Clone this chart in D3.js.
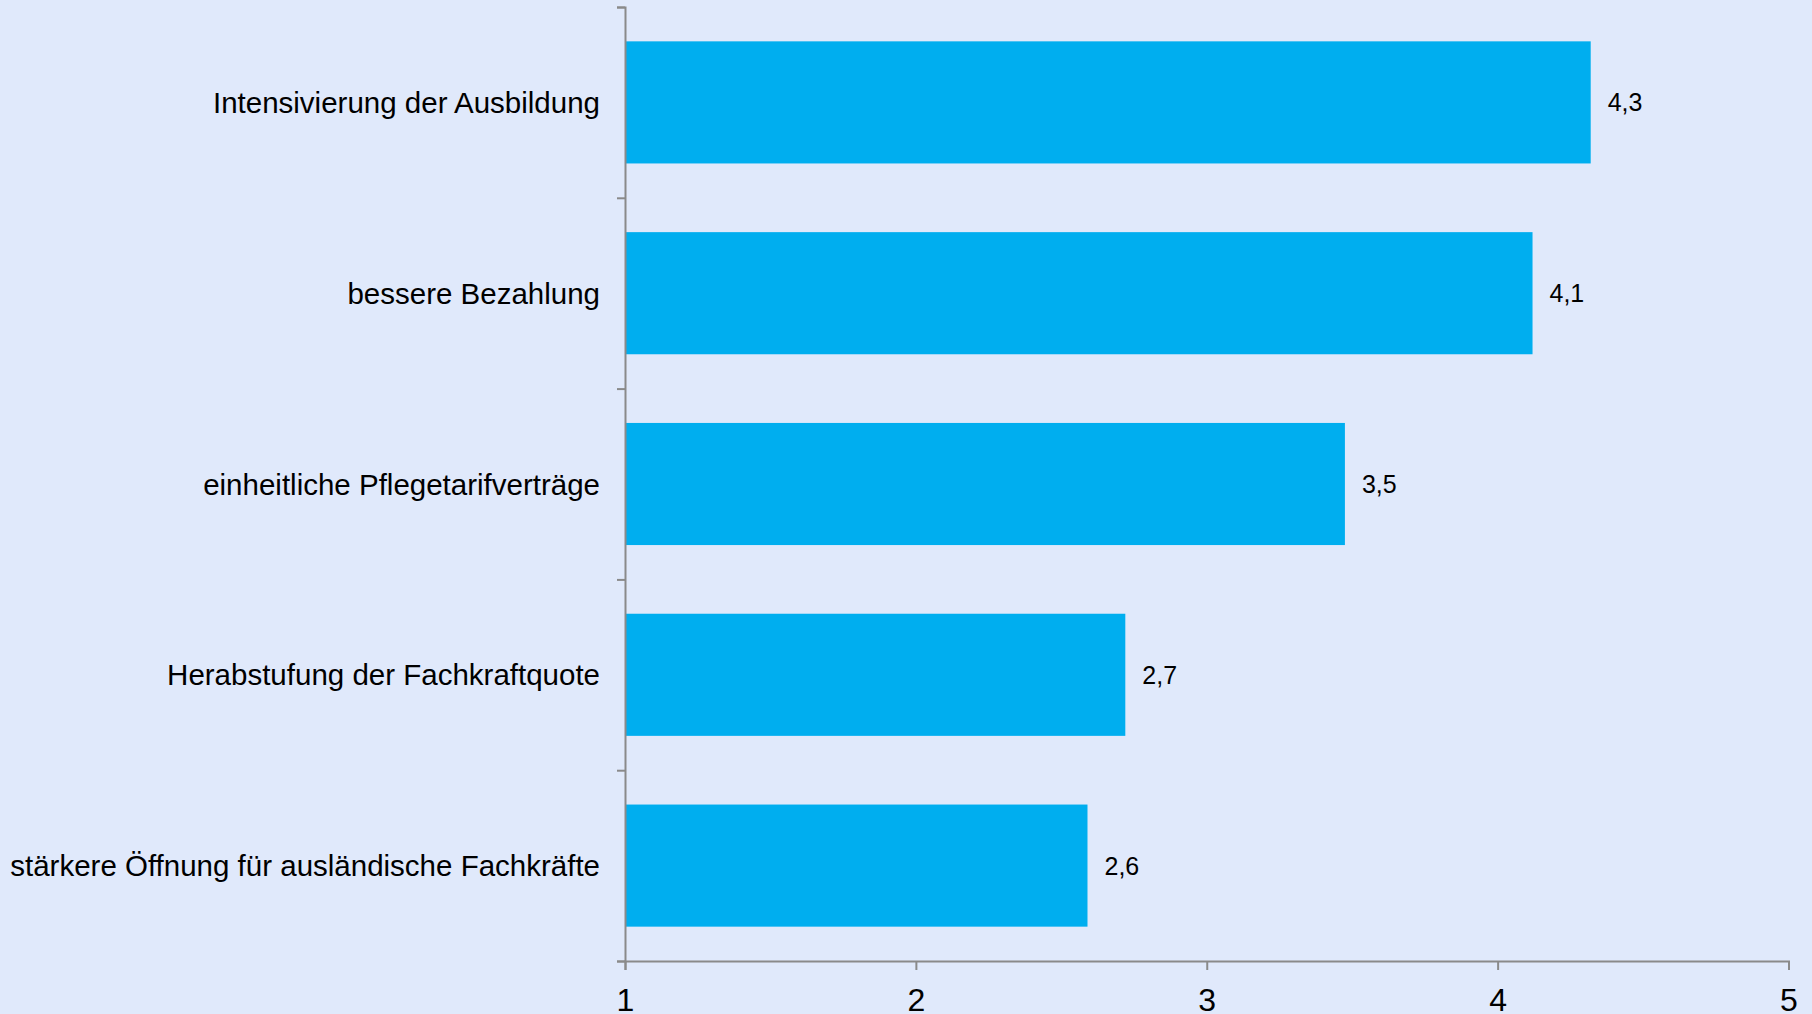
<!DOCTYPE html>
<html>
<head>
<meta charset="utf-8">
<script src="https://cdn.jsdelivr.net/npm/d3@7"></script>
<style>
  html, body { margin: 0; padding: 0; background: #e0e9fb; }
  svg { display: block; font-family: "Liberation Sans", Arial, sans-serif; }
</style>
</head>
<body>
<svg id="chart" width="1812" height="1014"></svg>
<script>
var categories = [
  'Intensivierung der Ausbildung',
  'bessere Bezahlung',
  'einheitliche Pflegetarifverträge',
  'Herabstufung der Fachkraftquote',
  'stärkere Öffnung für ausländische Fachkräfte'
];
var values = [4.32, 4.12, 3.475, 2.72, 2.59];
var xTicks = [1, 2, 3, 4, 5];

var svg = d3.select('#chart'),
  margin = { top: 7, left: 625, right: 24, bottom: 53 },
  w = svg.attr('width') - margin.left - margin.right,
  h = svg.attr('height') - margin.top - margin.bottom;

svg.append('rect')
  .attr('width', svg.attr('width'))
  .attr('height', svg.attr('height'))
  .attr('fill', '#e0e9fb');

var x = d3.scaleLinear().domain([1, 5]).range([0, w + 0.5]);
var y = d3.scaleBand()
  .domain(categories)
  .range([0, h])
  .paddingInner(0.36)
  .paddingOuter(0.18);
// boundaries between categories, for the y-axis ticks
var yEdge = d3.scaleLinear().domain([0, categories.length]).range([0, h]);

var g = svg.append('g')
  .attr('transform', 'translate(' + margin.left + ',' + margin.top + ')');

g.selectAll('rect.bar')
  .data(values)
  .enter()
  .append('rect')
  .attr('class', 'bar')
  .attr('x', x(1))
  .attr('y', function(d, i) { return y(categories[i]); })
  .attr('width', function(d) { return x(d) - x(1); })
  .attr('height', y.bandwidth())
  .attr('fill', '#00aeef');

// value labels
g.selectAll('text.val')
  .data(values)
  .enter()
  .append('text')
  .attr('class', 'val')
  .attr('x', function(d) { return x(d) + 17; })
  .attr('y', function(d, i) { return y(categories[i]) + y.bandwidth() / 2; })
  .attr('dy', '0.36em')
  .attr('font-size', 25)
  .attr('fill', '#000')
  .text(function(d) { return d.toFixed(1).replace('.', ','); });

// category labels
g.selectAll('text.cat')
  .data(categories)
  .enter()
  .append('text')
  .attr('class', 'cat')
  .attr('x', -25)
  .attr('y', function(d) { return y(d) + y.bandwidth() / 2; })
  .attr('dy', '0.36em')
  .attr('text-anchor', 'end')
  .attr('font-size', 29.5)
  .attr('fill', '#000')
  .text(function(d) { return d; });

var yAxis = g.append('g')
  .call(d3.axisLeft(yEdge).tickValues(d3.range(categories.length + 1)).tickSize(8).tickFormat(''));

var xAxis = g.append('g')
  .attr('transform', 'translate(0,' + h + ')')
  .call(d3.axisBottom(x).tickValues(xTicks).tickSize(9).tickSizeOuter(9).tickFormat(d3.format('d')));

xAxis.selectAll('text')
  .attr('font-size', 32)
  .attr('fill', '#000')
  .attr('y', 50)
  .attr('dy', 0);

[yAxis, xAxis].forEach(function(a) {
  a.select('.domain').attr('stroke', '#8a8a8a').attr('stroke-width', 2);
  a.selectAll('.tick line').attr('stroke', '#8a8a8a').attr('stroke-width', 2);
});
</script>
</body>
</html>
